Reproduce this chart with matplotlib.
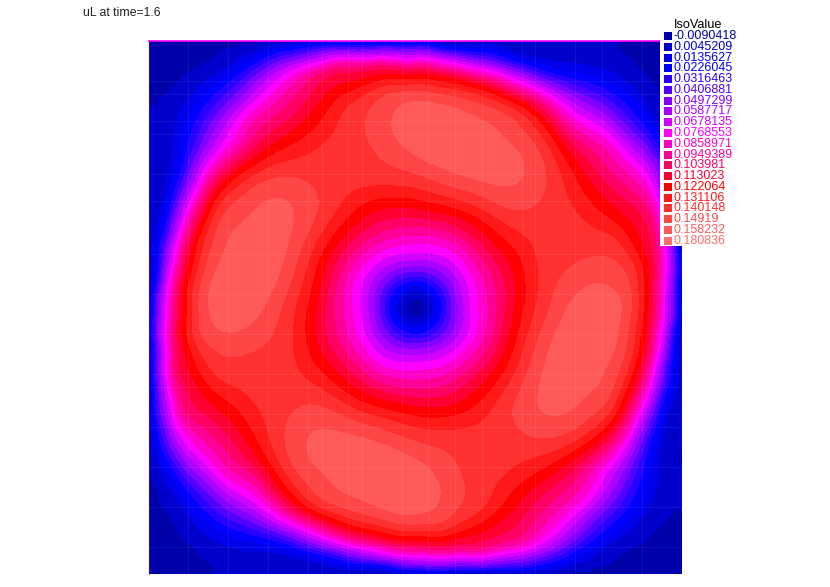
import numpy as np
import matplotlib
matplotlib.use("Agg")
import matplotlib.pyplot as plt
import matplotlib.tri as mtri

plt.rcParams['font.family'] = ['Liberation Sans', 'DejaVu Sans']

title = "uL at time=1.6"
legend_title = "IsoValue"
iso_labels = ["-0.0090418", "0.0045209", "0.0135627", "0.0226045", "0.0316463",
              "0.0406881", "0.0497299", "0.0587717", "0.0678135", "0.0768553",
              "0.0858971", "0.0949389", "0.103981", "0.113023", "0.122064",
              "0.131106", "0.140148", "0.14919", "0.158232", "0.180836"]
iso_values = [float(s) for s in iso_labels]
iso_colors = ["#0000aa", "#0000cd", "#0000eb", "#0000ff", "#2800ff",
              "#5000ff", "#8200ff", "#aa00ff", "#d200ff", "#ff00ff",
              "#ff00c8", "#ff0096", "#ff0064", "#ff0032", "#ff0000",
              "#ff1919", "#ff3030", "#ff4646", "#ff5a5a", "#ff6e6e"]

# sample positions along each side, measured inward from the domain edge
sample_pos = [0, 25, 50, 75, 100, 150, 200, 250, 300, 400, 500, 600, 700, 798]
q_rows = [
    [-5, -5, -5, -5, -5, -5, -5, -5, -4, -2, 0, 2, 3, 3],
    [-5, -5, -5, -5, -5, -5, -4, -2, 3, 20, 36, 44, 47, 45],
    [-5, -5, -5, -5, -5, -4, -2, 5, 15, 40, 60, 74, 76, 72],
    [-5, -5, -5, -5, -4, -3, 1, 10, 23, 58, 82, 100, 103, 98],
    [-4, -5, -5, -4, -3, 0, 8, 20, 38, 72, 100, 112, 119, 118],
    [-3, -4, -3, -2, 1, 12, 25, 38, 55, 88, 110, 125, 143, 147],
    [-2, -2, 0, 4, 9, 23, 38, 55, 75, 98, 118, 138, 149, 158],
    [-2, -2, 1, 7, 14, 32, 52, 72, 90, 108, 125, 140, 151, 163],
    [-2, -1, 3, 10, 18, 40, 62, 80, 97, 120, 133, 141, 148, 160],
    [-2, 0, 5, 15, 30, 68, 98, 120, 133, 144, 141, 140, 141, 144],
    [-1, 5, 16, 38, 62, 100, 136, 147, 152, 156, 146, 130, 118, 118],
    [0, 18, 40, 65, 90, 130, 148, 156, 160, 157, 136, 110, 90, 84],
    [1, 25, 60, 85, 110, 140, 156, 161, 163, 152, 125, 88, 56, 38],
]
center_value = -8

seam_x = [188, 228, 268, 308, 322, 348, 362, 402, 428, 455, 482, 522, 535, 575, 602, 642]
seam_y = [81, 94, 121, 134, 174, 201, 254, 294, 334, 374, 387, 414, 427, 467, 507, 547]

W, H = 830, 587
L, T, R, B = 149, 41, 682, 574

fig = plt.figure(figsize=(W / 100, H / 100), dpi=100)
ax = fig.add_axes([L / W, 1 - B / H, (R - L) / W, (B - T) / H])

Q = np.array(q_rows, float) / 1000
n = len(sample_pos)
F = np.zeros((2 * n - 1, 2 * n - 1))
for _ in range(4):
    F[:n - 1, :n] = Q
    F = np.rot90(F, -1)
F[n - 1, n - 1] = center_value / 1000
c = np.array(sample_pos, float)
coords = np.concatenate([c, 2 * c[-1] - c[-2::-1]])
X, Y = np.meshgrid(coords, coords)
tri = mtri.Triangulation(X.ravel(), Y.ravel())
interp = mtri.CubicTriInterpolator(tri, F.ravel(), kind='min_E')

# render on a fine regular raster, softened away from the steep edge layer and the centre
side = coords[-1]
gx = np.linspace(0, side, 533)
GX, GY = np.meshgrid(gx, gx)
Z0 = np.ma.filled(interp(GX, GY), 0.0)


def soften(a, sigma):
    r = int(3 * sigma)
    k = np.exp(-0.5 * (np.arange(-r, r + 1) / sigma) ** 2)
    k /= k.sum()
    p = np.pad(a, r, mode='reflect')
    p = np.apply_along_axis(lambda v: np.convolve(v, k, mode='same'), 0, p)
    p = np.apply_along_axis(lambda v: np.convolve(v, k, mode='same'), 1, p)
    return p[r:-r, r:-r]


Zs = soften(Z0, 8.0)
edge = np.minimum.reduce([GX, GY, side - GX, side - GY]) / 3.0
rad = np.hypot(GX - side / 2, GY - side / 2) / 3.0
w = np.clip(np.minimum(edge, rad) / 45.0, 0, 1)
Z = w * Zs + (1 - w) * Z0

iso = np.array(iso_values)
edges = (iso[:-1] + iso[1:]) / 2
edges[-1] = 0.1695
levels = np.concatenate([[-1], edges, [1]])
ax.contourf(GX, GY, Z, levels=levels, colors=iso_colors, antialiased=False)
ax.set_xlim(0, side)
ax.set_ylim(side, 0)
ax.axis('off')

ov = fig.add_axes([0, 0, 1, 1], facecolor='none')
ov.set_xlim(0, W)
ov.set_ylim(H, 0)
ov.axis('off')
for sx in seam_x:
    ov.plot([sx, sx], [T, B], color='white', alpha=0.07, lw=0.8)
for sy in seam_y:
    ov.plot([L, R], [sy, sy], color='white', alpha=0.07, lw=0.8)
ov.plot([L, R], [T - 0.5, T - 0.5], color='#ff00ff', lw=1.2)
ov.plot([L - 0.5, L - 0.5], [T, B], color='#6000c0', alpha=0.6, lw=0.8)

ov.text(83, 13, title, fontsize=8.8, color='#222222', va='center', ha='left')

ov.fill_between([660, 700], 30, 245.5, color='white', lw=0, zorder=3)
ov.text(673.5, 25.5, legend_title, fontsize=9.2, color='black', va='center', ha='left', zorder=4)
for k, (lab, col) in enumerate(zip(iso_labels, iso_colors)):
    y = 36 + 10.78 * k
    ov.scatter([667.5], [y], marker='s', s=36, color=col, lw=0, zorder=4)
    ov.text(673, y, lab, fontsize=9, color=col, va='center', ha='left', zorder=4)

fig.savefig('out.png', dpi=100)
